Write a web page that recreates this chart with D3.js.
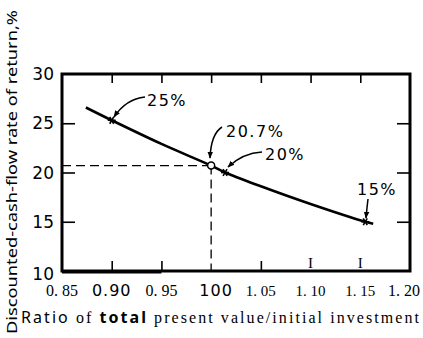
<!DOCTYPE html>
<html><head><meta charset="utf-8">
<script src="https://cdn.jsdelivr.net/npm/d3@7"></script>
<style>body{margin:0;background:#fff}svg{display:block}</style>
</head><body>
<svg id="c" width="423" height="338"></svg>
<script>
// ---- data ----
const xTicks = [0.85, 0.90, 0.95, 1.00, 1.05, 1.10, 1.15, 1.20];
const xTickLabels = ["0. 85", "0.90", "0. 95", "100", "1. 05", "1. 10", "1. 15", "1. 20"];
const yTicks = [10, 15, 20, 25, 30];
const yTickLabels = ["10", "15", "20", "25", "30"];
const curveX = [0.874, 0.90, 0.95, 1.00, 1.014, 1.05, 1.10, 1.155, 1.163];
const curveY = [26.6, 25.3, 22.9, 20.7, 20.0, 18.6, 16.8, 15.0, 14.8];
const markX = [0.90, 1.014, 1.155];
const markY = [25.3, 20.0, 15.0];
const markLabels = ["25%", "20%", "15%"];
const breakevenX = 1.00;
const breakevenY = 20.7;
const breakevenLabel = "20.7%";
const xTitle = ["Ratio", " of ", "total", " present value/initial investment"];
const yTitle = "Discounted-cash-flow rate of return,%";

// ---- layout ----
const svg = d3.select("#c");
const x = d3.scaleLinear().domain([0.85, 1.20]).range([62, 410]);
const y = d3.scaleLinear().domain([10, 30]).range([271, 74]);
const sans = "'DejaVu Sans', 'Noto Sans', sans-serif";
const sans2 = "'Noto Sans', 'DejaVu Sans', sans-serif";
const serif = "'Liberation Serif', 'DejaVu Serif', serif";

svg.append("defs").append("marker")
  .attr("id", "ah").attr("viewBox", "0 0 10 10").attr("refX", 9).attr("refY", 5)
  .attr("markerWidth", 7).attr("markerHeight", 7).attr("orient", "auto-start-reverse")
  .attr("markerUnits", "userSpaceOnUse")
  .append("path").attr("d", "M0,1 L10,5 L0,9 Z").attr("fill", "#000");

// frame
svg.append("rect").attr("x", x(0.85)).attr("y", y(30))
  .attr("width", x(1.20) - x(0.85)).attr("height", y(10) - y(30))
  .attr("fill", "none").attr("stroke", "#000").attr("stroke-width", 3);
svg.append("line").attr("x1", x(0.85)).attr("x2", x(0.95)).attr("y1", y(10) + 1).attr("y2", y(10) + 1)
  .attr("stroke", "#000").attr("stroke-width", 3);

// axes with D3 (inner ticks)
const innerX = xTicks.slice(1, -1);
const innerY = yTicks.slice(1, -1);
const topAxis = d3.axisBottom(x).tickValues(innerX).tickSize(9).tickFormat("");
svg.append("g").attr("transform", `translate(0,${y(30)})`).call(topAxis)
  .call(g => g.select(".domain").remove())
  .selectAll("line").attr("stroke-width", 1.6);
const botTicks = innerX.filter(v => v < 1.08 && Math.abs(v - 1.00) > 1e-6);
const botAxis = d3.axisTop(x).tickValues(botTicks).tickSize(10).tickFormat("");
svg.append("g").attr("transform", `translate(0,${y(10)})`).call(botAxis)
  .call(g => g.select(".domain").remove())
  .selectAll("line").attr("stroke-width", 1.6);
svg.selectAll("text.itick").data(innerX.filter(v => v > 1.08)).join("text")
  .attr("class", "itick").attr("x", d => x(d)).attr("y", y(10) - 3)
  .attr("text-anchor", "middle").attr("font-family", serif).attr("font-size", 15)
  .text("I");
const leftAxis = d3.axisRight(y).tickValues(innerY).tickSize(13).tickFormat("");
svg.append("g").attr("transform", `translate(${x(0.85)},0)`).call(leftAxis)
  .call(g => g.select(".domain").remove())
  .selectAll("line").attr("stroke-width", 1.6);
const rightAxis = d3.axisLeft(y).tickValues(innerY).tickSize(13).tickFormat("");
svg.append("g").attr("transform", `translate(${x(1.20)},0)`).call(rightAxis)
  .call(g => g.select(".domain").remove())
  .selectAll("line").attr("stroke-width", 1.6);

// y tick labels
svg.selectAll("text.ytl").data(yTicks).join("text")
  .attr("class", "ytl").attr("x", 54).attr("y", (d, i) => y(d) + (i === 0 ? 9 : 6))
  .attr("text-anchor", "end").attr("font-family", sans).attr("font-size", 17)
  .text((d, i) => yTickLabels[i]);

// x tick labels (mixed lettering)
const xtFont = [serif, sans, serif, sans, serif, serif, serif, serif];
const xtSize = [16, 16, 16, 16, 15, 15, 15, 16];
svg.selectAll("text.xtl").data(xTicks).join("text")
  .attr("class", "xtl")
  .attr("x", (d, i) => i === xTicks.length - 1 ? x(d) + 10 : x(d) + (i === 3 ? 5 : 0))
  .attr("y", 296)
  .attr("text-anchor", (d, i) => i === xTicks.length - 1 ? "end" : "middle")
  .attr("font-family", (d, i) => xtFont[i]).attr("font-size", (d, i) => xtSize[i])
  .attr("letter-spacing", (d, i) => xtFont[i] === sans ? 1 : 0)
  .text((d, i) => xTickLabels[i]);

// x title
const xt = svg.append("text").attr("x", 21).attr("y", 323).attr("font-size", 16);
const xtFonts = [sans2, serif, sans2, serif];
const xtW = [400, 400, 700, 400];
xTitle.forEach((s, i) => xt.append("tspan").attr("font-family", xtFonts[i]).attr("font-weight", xtW[i])
  .attr("xml:space", "preserve").text(s));
xt.attr("textLength", 398).attr("lengthAdjust", "spacing");

// y title
svg.append("text").attr("transform", "translate(17,334) rotate(-90)")
  .attr("font-family", sans2).attr("font-size", 14.5)
  .attr("textLength", 324).attr("lengthAdjust", "spacingAndGlyphs")
  .text(yTitle);

// dashed guides
svg.append("line").attr("x1", x(0.85)).attr("x2", x(breakevenX)).attr("y1", y(breakevenY)).attr("y2", y(breakevenY))
  .attr("stroke", "#000").attr("stroke-width", 1.3).attr("stroke-dasharray", "9,5");
svg.append("line").attr("x1", x(breakevenX)).attr("x2", x(breakevenX)).attr("y1", y(breakevenY)).attr("y2", y(10))
  .attr("stroke", "#000").attr("stroke-width", 1.3).attr("stroke-dasharray", "9,5");

// curve
const pts = curveX.map((v, i) => [x(v), y(curveY[i])]);
svg.append("path").attr("d", d3.line().curve(d3.curveCatmullRom)(pts))
  .attr("fill", "none").attr("stroke", "#000").attr("stroke-width", 2.6);

// star markers
markX.forEach((v, i) => {
  const cx = x(v), cy = y(markY[i]);
  const g = svg.append("g").attr("transform", `translate(${cx},${cy})`);
  [0, 60, 120].forEach(a => g.append("line").attr("x1", -4).attr("x2", 4)
    .attr("transform", `rotate(${a})`).attr("stroke", "#000").attr("stroke-width", 1.6));
});
svg.append("circle").attr("cx", x(breakevenX)).attr("cy", y(breakevenY)).attr("r", 3.5)
  .attr("fill", "#fff").attr("stroke", "#000").attr("stroke-width", 1.5);

// annotations
const ann = [
  {tx: 147, ty: 106, label: markLabels[0], a: [[145, 97], [126, 99], [114, 117]]},
  {tx: 226, ty: 137, label: breakevenLabel, a: [[222, 127], [211, 134], [210, 158]]},
  {tx: 265, ty: 160, label: markLabels[1], a: [[262, 152], [243, 153], [228, 167]]},
  {tx: 357, ty: 195, label: markLabels[2], a: [[368, 199], [367, 207], [366, 218]]}
];
ann.forEach(d => {
  svg.append("text").attr("x", d.tx).attr("y", d.ty).attr("font-family", sans).attr("font-size", 16)
    .attr("letter-spacing", 1.5).text(d.label);
  svg.append("path").attr("d", `M${d.a[0][0]},${d.a[0][1]} Q${d.a[1][0]},${d.a[1][1]} ${d.a[2][0]},${d.a[2][1]}`)
    .attr("fill", "none").attr("stroke", "#000").attr("stroke-width", 1.5).attr("marker-end", "url(#ah)");
});
</script>
</body></html>
